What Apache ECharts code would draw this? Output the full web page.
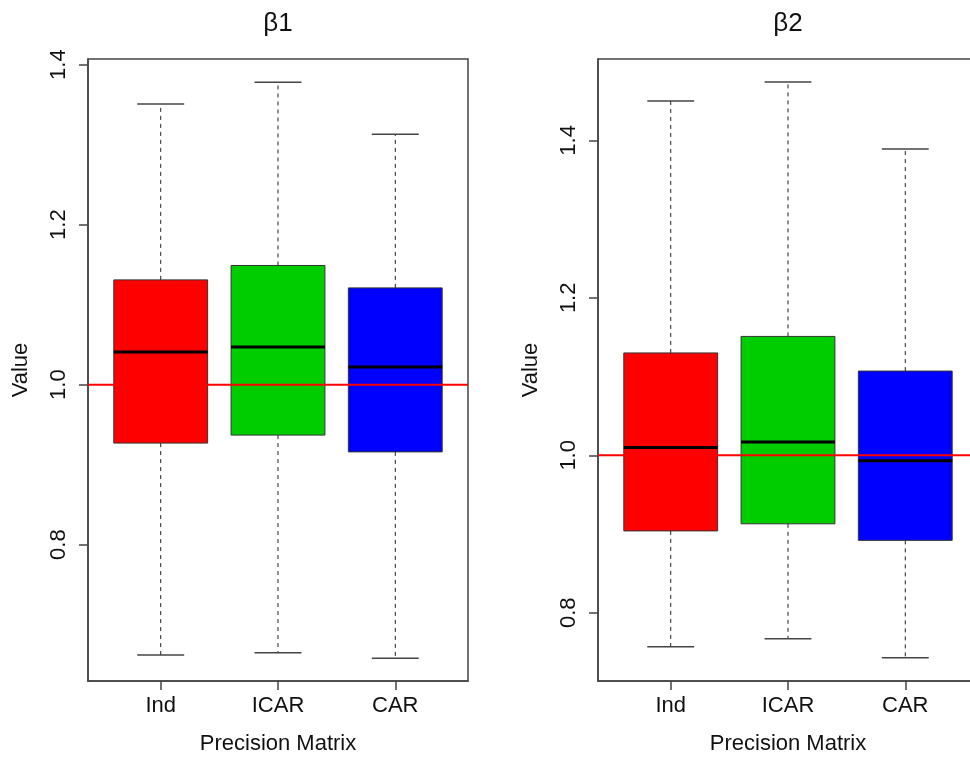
<!DOCTYPE html>
<html>
<head>
<meta charset="utf-8">
<script src="https://cdn.jsdelivr.net/npm/echarts@6/dist/echarts.min.js"></script>
<style>html,body{margin:0;padding:0;background:#fff;overflow:hidden;}#c{width:970px;height:759px;}</style>
</head>
<body>
<div id="c"></div>
<script>
const categories = ['Ind', 'ICAR', 'CAR'];
const categoryPositions = [1, 2, 3];
const boxColors = ['#FF0000', '#00CD00', '#0000FF'];

const beta1Min = [0.662, 0.665, 0.658];
const beta1Q1 = [0.927, 0.937, 0.916];
const beta1Median = [1.041, 1.047, 1.022];
const beta1Q3 = [1.131, 1.149, 1.121];
const beta1Max = [1.351, 1.378, 1.313];

const beta2Min = [0.757, 0.767, 0.743];
const beta2Q1 = [0.904, 0.913, 0.892];
const beta2Median = [1.010, 1.017, 0.993];
const beta2Q3 = [1.130, 1.151, 1.107];
const beta2Max = [1.450, 1.474, 1.389];

const yTicks = [0.8, 1.0, 1.2, 1.4];
const refValue = 1.0;
const xRange = [0.38, 3.62];
const yRange1 = [0.6296, 1.4071];
const yRange2 = [0.7134, 1.5033];
const titles = ['β1', 'β2'];

const FONT = '"Liberation Sans", Arial, Helvetica, sans-serif';

function buildData(mins, q1s, meds, q3s, maxs) {
  return categoryPositions.map((p, i) => ({
    value: [p, mins[i], q1s[i], meds[i], q3s[i], maxs[i]],
    itemStyle: { color: boxColors[i] }
  }));
}

function renderBox(params, api) {
  const x = api.value(0);
  const lo = api.value(1), q1 = api.value(2), med = api.value(3), q3 = api.value(4), hi = api.value(5);
  const halfBox = api.size([0.8, 0])[0] / 2;
  const halfCap = api.size([0.4, 0])[0] / 2;
  const pLo = api.coord([x, lo]);
  const pQ1 = api.coord([x, q1]);
  const pMed = api.coord([x, med]);
  const pQ3 = api.coord([x, q3]);
  const pHi = api.coord([x, hi]);
  const cx = pLo[0];
  const color = api.visual('color');
  const whiskerStyle = { stroke: '#222', lineWidth: 1, lineDash: [4, 4] };
  const capStyle = { stroke: '#444', lineWidth: 1.5 };
  return {
    type: 'group',
    children: [
      { type: 'line', shape: { x1: cx, y1: pQ3[1], x2: cx, y2: pHi[1] }, style: whiskerStyle },
      { type: 'line', shape: { x1: cx, y1: pQ1[1], x2: cx, y2: pLo[1] }, style: whiskerStyle },
      { type: 'line', shape: { x1: cx - halfCap, y1: pHi[1], x2: cx + halfCap, y2: pHi[1] }, style: capStyle },
      { type: 'line', shape: { x1: cx - halfCap, y1: pLo[1], x2: cx + halfCap, y2: pLo[1] }, style: capStyle },
      { type: 'rect', shape: { x: cx - halfBox, y: pQ3[1], width: halfBox * 2, height: pQ1[1] - pQ3[1] },
        style: { fill: color, stroke: '#333', lineWidth: 1 } },
      { type: 'line', shape: { x1: cx - halfBox, y1: pMed[1], x2: cx + halfBox, y2: pMed[1] },
        style: { stroke: '#000', lineWidth: 3 } }
    ]
  };
}

function xAxisDef(gridIndex) {
  return {
    type: 'value', gridIndex: gridIndex, min: xRange[0], max: xRange[1],
    name: 'Precision Matrix', nameLocation: 'middle', nameGap: 52,
    nameTextStyle: { fontFamily: FONT, fontSize: 22, color: '#111' },
    axisLine: { show: true, onZero: false, lineStyle: { color: '#444', width: 1.5 } },
    axisTick: { show: true, length: 9, customValues: categoryPositions, lineStyle: { color: '#444', width: 1.5 } },
    axisLabel: { show: true, customValues: categoryPositions, margin: 14,
      formatter: v => categories[categoryPositions.indexOf(Math.round(v))] || '',
      fontFamily: FONT, fontSize: 22, color: '#111' },
    splitLine: { show: false }
  };
}

function yAxisDef(gridIndex, range) {
  return {
    type: 'value', gridIndex: gridIndex, min: range[0], max: range[1],
    name: 'Value', nameLocation: 'middle', nameGap: 56, nameRotate: 90,
    nameTextStyle: { fontFamily: FONT, fontSize: 22, color: '#111' },
    axisLine: { show: true, onZero: false, lineStyle: { color: '#444', width: 1.5 } },
    axisTick: { show: true, length: 9, customValues: yTicks, lineStyle: { color: '#444', width: 1.5 } },
    axisLabel: { show: true, customValues: yTicks, rotate: 90, margin: 18,
      formatter: v => v.toFixed(1), fontFamily: FONT, fontSize: 22, color: '#111' },
    splitLine: { show: false }
  };
}

function refLine(i) {
  return {
    type: 'line', xAxisIndex: i, yAxisIndex: i, symbol: 'none', silent: true, z: 5,
    data: [[xRange[0], refValue], [xRange[1], refValue]],
    lineStyle: { color: '#FF0000', width: 2 }
  };
}

const chart = echarts.init(document.getElementById('c'), null, { renderer: 'canvas' });
chart.setOption({
  backgroundColor: '#ffffff',
  animation: false,
  title: [
    { text: titles[0], left: 273, top: 6, textAlign: 'center',
      textStyle: { fontFamily: FONT, fontSize: 26, fontWeight: 'normal', color: '#111' } },
    { text: titles[1], left: 783, top: 6, textAlign: 'center',
      textStyle: { fontFamily: FONT, fontSize: 26, fontWeight: 'normal', color: '#111' } }
  ],
  grid: [
    { left: 88, width: 380, top: 59, bottom: 78, show: true, borderColor: '#444', borderWidth: 1.5, backgroundColor: 'transparent', containLabel: false, outerBoundsMode: 'none' },
    { left: 598, width: 380, top: 59, bottom: 78, show: true, borderColor: '#444', borderWidth: 1.5, backgroundColor: 'transparent', containLabel: false, outerBoundsMode: 'none' }
  ],
  xAxis: [xAxisDef(0), xAxisDef(1)],
  yAxis: [yAxisDef(0, yRange1), yAxisDef(1, yRange2)],
  series: [
    { type: 'custom', xAxisIndex: 0, yAxisIndex: 0, renderItem: renderBox, encode: { x: 0, y: [1, 2, 3, 4, 5] },
      data: buildData(beta1Min, beta1Q1, beta1Median, beta1Q3, beta1Max), z: 2 },
    { type: 'custom', xAxisIndex: 1, yAxisIndex: 1, renderItem: renderBox, encode: { x: 0, y: [1, 2, 3, 4, 5] },
      data: buildData(beta2Min, beta2Q1, beta2Median, beta2Q3, beta2Max), z: 2 },
    refLine(0),
    refLine(1)
  ]
});
</script>
</body>
</html>
